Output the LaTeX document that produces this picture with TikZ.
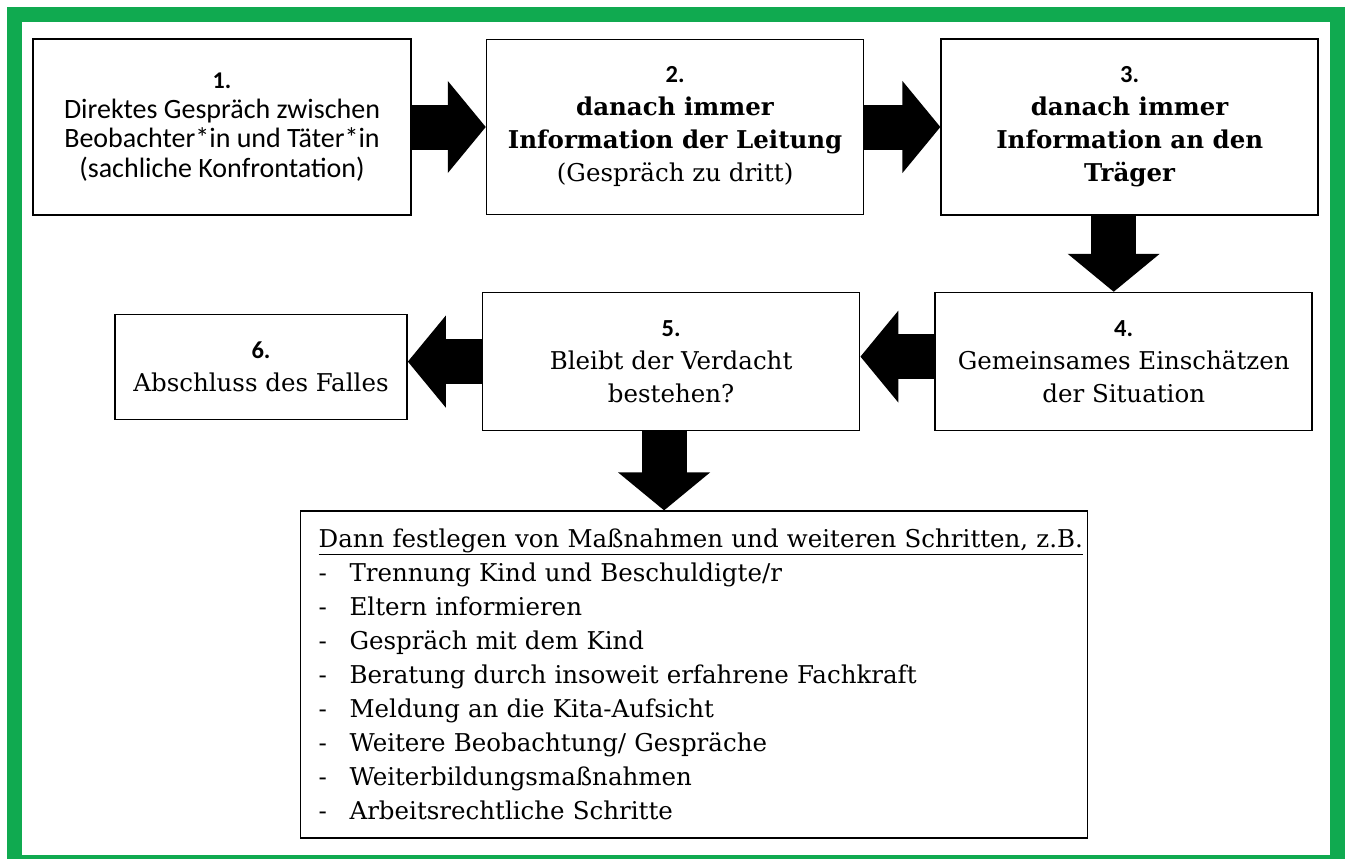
\documentclass[tikz,border=0pt]{standalone}
\usepackage{fontspec}
\setmainfont{DejaVu Serif}
\newfontfamily\calfont{Carlito}
\usetikzlibrary{positioning,arrows.meta}
\definecolor{framegreen}{RGB}{16,170,80}

\begin{document}
\begin{tikzpicture}[x=1pt,y=-1pt,
  box/.style={draw, line width=1.6pt, align=center, inner sep=0pt, font=\fontsize{24.5}{33}\selectfont},
  bigarrow/.style={line width=45pt, -{Triangle[length=38pt,width=90pt]}}]
\useasboundingbox (0,0) rectangle (1349,859);
\draw[framegreen, line width=15pt] (14.5,14.5) rectangle (1337.5,862);
\node[box, minimum width=378pt, minimum height=176pt, font=\calfont\fontsize{28}{29.5}\selectfont] (step1) at (222,127) {{\fontsize{24}{29.5}\selectfont\bfseries 1.}\\Direktes Gespräch zwischen\\Beobachter*in und Täter*in\\(sachliche Konfrontation)};
\node[box, minimum width=377pt, minimum height=175pt, right=74pt of step1] (step2) {{\calfont\bfseries 2.}\\\textbf{danach immer}\\\textbf{Information der Leitung}\\(Gespräch zu dritt)};
\node[box, minimum width=377pt, minimum height=176pt, right=76pt of step2] (step3) {{\calfont\bfseries 3.}\\\textbf{danach immer}\\\textbf{Information an den}\\\textbf{Träger}};
\node[box, minimum width=377pt, minimum height=138pt, below=76pt of step3, xshift=-6pt] (step4) {{\calfont\bfseries 4.}\\Gemeinsames Einschätzen\\der Situation};
\node[box, minimum width=377pt, minimum height=138pt, left=74pt of step4] (step5) {{\calfont\bfseries 5.}\\Bleibt der Verdacht\\bestehen?};
\node[box, minimum width=292pt, minimum height=105pt, left=74pt of step5, yshift=-5.5pt] (step6) {{\calfont\bfseries 6.}\\Abschluss des Falles};
\node[box, minimum height=327pt, text width=751pt, inner xsep=18pt, align=left, below=79pt of step5, xshift=23pt, font=\fontsize{24.5}{34}\selectfont] (step7) {\underline{Dann festlegen von Maßnahmen und weiteren Schritten, z.B.}\\
  \makebox[31pt][l]{-}Trennung Kind und Beschuldigte/r\\
  \makebox[31pt][l]{-}Eltern informieren\\
  \makebox[31pt][l]{-}Gespräch mit dem Kind\\
  \makebox[31pt][l]{-}Beratung durch insoweit erfahrene Fachkraft\\
  \makebox[31pt][l]{-}Meldung an die Kita-Aufsicht\\
  \makebox[31pt][l]{-}Weitere Beobachtung/ Gespräche\\
  \makebox[31pt][l]{-}Weiterbildungsmaßnahmen\\
  \makebox[31pt][l]{-}Arbeitsrechtliche Schritte};
\draw[bigarrow] (step1.east) -- (step2.west);
\draw[bigarrow] (step2.east) -- (step3.west);
\draw[bigarrow] ([xshift=-16pt]step3.south) -- ([xshift=-16pt]step3.south |- step4.north);
\draw[bigarrow] ([yshift=5pt]step4.west) -- ([yshift=5pt]step4.west -| step5.east);
\draw[bigarrow] (step5.west) -- (step5.west -| step6.east);
\draw[bigarrow] ([xshift=-7pt]step5.south) -- ([xshift=-7pt]step5.south |- step7.north);
\end{tikzpicture}
\end{document}
